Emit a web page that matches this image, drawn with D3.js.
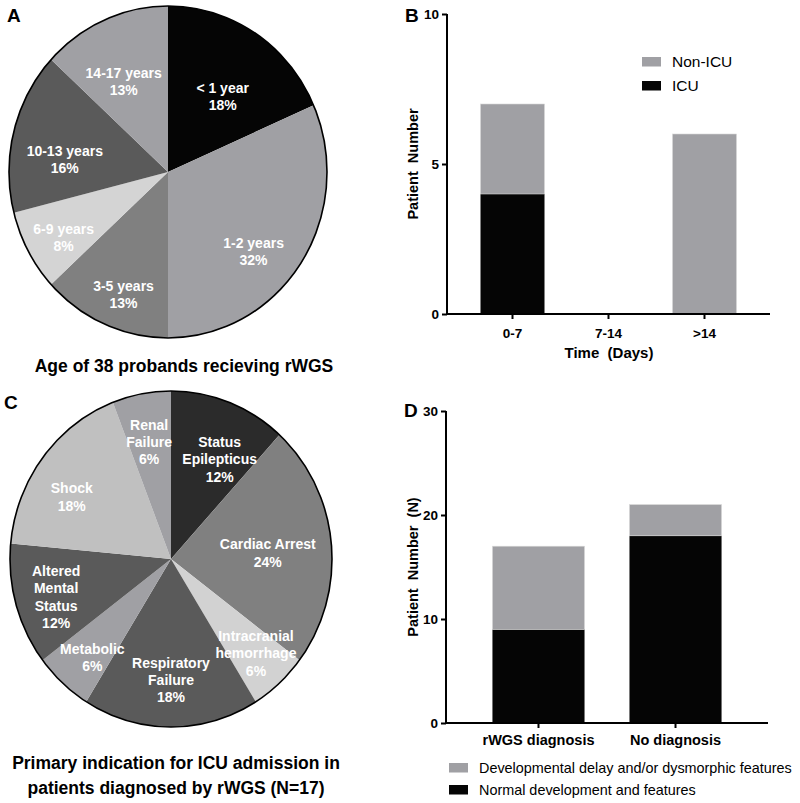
<!DOCTYPE html>
<html><head><meta charset="utf-8">
<script src="https://cdn.jsdelivr.net/npm/d3@7"></script>
<style>html,body{margin:0;padding:0;background:#fff;} svg{display:block;font-family:"Liberation Sans",Arial,sans-serif;}</style>
</head><body>
<svg id="chart" width="800" height="803"></svg>
<script>
// ---------- DATA ----------
const ageCategories = ["< 1 year","1-2 years","3-5 years","6-9 years","10-13 years","14-17 years"];
const ageCounts     = [7, 12, 5, 3, 6, 5];           // of 38 probands
const agePercents   = ["18%","32%","13%","8%","16%","13%"];

const icuCategories = ["Status Epilepticus","Cardiac Arrest","Intracranial hemorrhage","Respiratory Failure","Metabolic","Altered Mental Status","Shock","Renal Failure"];
const icuCounts     = [2, 4, 1, 3, 1, 2, 3, 1];      // N=17
const icuPercents   = ["12%","24%","6%","18%","6%","12%","18%","6%"];

const timeCategories = ["0-7","7-14",">14"];
const timeICU        = [4, 0, 0];
const timeNonICU     = [3, 0, 6];
const timeTicks      = [0, 5, 10];

const diagCategories = ["rWGS diagnosis","No diagnosis"];
const diagNormal     = [9, 18];
const diagDevDelay   = [8, 3];
const diagTicks      = [0, 10, 20, 30];

// ---------- STYLE / LAYOUT ----------
const ageColors = ["#050505","#a0a0a4","#808080","#d4d4d4","#5a5a5a","#a0a0a4"];
const icuColors = ["#2b2b2b","#808080","#d2d2d2","#5a5a5a","#a0a0a4","#5a5a5a","#c0c0c0","#a0a0a4"];
const ageLabelLines = [["< 1 year"],["1-2 years"],["3-5 years"],["6-9 years"],["10-13 years"],["14-17 years"]];
const icuLabelLines = [["Status","Epilepticus"],["Cardiac Arrest"],["Intracranial","hemorrhage"],["Respiratory","Failure"],["Metabolic"],["Altered","Mental","Status"],["Shock"],["Renal","Failure"]];
// label anchor (polar: radius px, angle deg clockwise from top) for each slice
const ageLabelPolar = [[93,36],[117,133],[130,200],[123,238],[104,277],[101,334]];
const icuLabelPolar = [[111,26],[97,86.5],[127,138],[121,180],[126,218.6],[121,251.7],[117,302],[119,349.4]];

const GRAY = "#a0a0a4", BLACK = "#050505";
const svg = d3.select("#chart");

function pie(g, counts, colors, lines, percents, polar, cx, cy, ry, sx) {
  const arcs = d3.pie().sort(null).value(d => d)(counts);
  const arc = d3.arc().innerRadius(0).outerRadius(ry);
  const pg = g.append("g").attr("transform", `translate(${cx},${cy}) scale(${sx},1)`);
  pg.selectAll("path").data(arcs).join("path")
    .attr("d", arc).attr("fill", (d,i) => colors[i]);
  pg.append("circle").attr("r", ry).attr("fill","none").attr("stroke","#000")
    .attr("stroke-width",1.6).attr("vector-effect","non-scaling-stroke");
  const lh = 17.3;
  arcs.forEach((d,i) => {
    const [r, a] = polar[i];
    const rad = a * Math.PI/180;
    const x = cx + r*Math.sin(rad), y = cy - r*Math.cos(rad);
    const all = lines[i].concat([percents[i]]);
    const t = g.append("text").attr("text-anchor","middle").attr("fill","#fff")
      .attr("font-weight","bold").attr("font-size",14);
    all.forEach((s,k) => {
      t.append("tspan").attr("x", x).attr("y", y + (k - (all.length-1)/2)*lh + 5).text(s);
    });
  });
}

// Panel A
pie(svg, ageCounts, ageColors, ageLabelLines, agePercents, ageLabelPolar, 168, 172, 166, 159/166);
svg.append("text").attr("x",184).attr("y",372).attr("text-anchor","middle")
  .attr("font-weight","bold").attr("font-size",17.5).text("Age of 38 probands recieving rWGS");
svg.append("text").attr("x",7).attr("y",22).attr("font-weight","bold").attr("font-size",19).text("A");

// Panel C
pie(svg, icuCounts, icuColors, icuLabelLines, icuPercents, icuLabelPolar, 171, 559, 168, 161/168);
svg.append("text").attr("x",176).attr("y",769).attr("text-anchor","middle")
  .attr("font-weight","bold").attr("font-size",17.5).text("Primary indication for ICU admission in");
svg.append("text").attr("x",176).attr("y",794).attr("text-anchor","middle")
  .attr("font-weight","bold").attr("font-size",17.5).text("patients diagnosed by rWGS (N=17)");
svg.append("text").attr("x",4).attr("y",409).attr("font-weight","bold").attr("font-size",19).text("C");

// ---------- Bar panels ----------
function barPanel(opts) {
  const {cats, lower, upper, ticks, x0, x1, y0, y1, ymax, pi, po} = opts;
  const g = svg.append("g");
  const x = d3.scaleBand().domain(cats).range([x0, x1]).paddingInner(pi).paddingOuter(po);
  const y = d3.scaleLinear().domain([0, ymax]).range([y0, y1]);
  cats.forEach((c,i) => {
    if (lower[i] > 0) g.append("rect").attr("x", x(c)).attr("width", x.bandwidth())
      .attr("y", y(lower[i])).attr("height", y(0)-y(lower[i])).attr("fill", BLACK);
    if (upper[i] > 0) g.append("rect").attr("x", x(c)).attr("width", x.bandwidth())
      .attr("y", y(lower[i]+upper[i])).attr("height", y(lower[i]) - y(lower[i]+upper[i]))
      .attr("fill", GRAY).attr("stroke","#d8d8d8").attr("stroke-width",0.6);
  });
  const ya = g.append("g").attr("transform",`translate(${x0},0)`)
    .call(d3.axisLeft(y).tickValues(ticks).tickSize(5).tickPadding(3).tickFormat(d3.format("d")));
  const xa = g.append("g").attr("transform",`translate(0,${y0})`)
    .call(d3.axisBottom(x).tickSize(5).tickPadding(opts.xPad));
  [ya, xa].forEach(a => {
    a.select(".domain").attr("stroke","#000").attr("stroke-width",2);
    a.selectAll(".tick line").attr("stroke","#000").attr("stroke-width",2);
    a.selectAll("text").attr("fill","#000").attr("font-weight","bold")
      .attr("font-family",'"Liberation Sans",Arial,sans-serif');
  });
  ya.select(".domain").attr("d", `M0,${y1}V${y0}`);
  xa.select(".domain").attr("d", `M${x0},0H${x1}`);
  ya.selectAll("text").attr("font-size",13.5);
  xa.selectAll("text").attr("font-size", opts.xFont);
  return {g, x, y};
}

// Panel B
barPanel({cats: timeCategories, lower: timeICU, upper: timeNonICU, ticks: timeTicks,
  x0: 447, x1: 770, y0: 314, y1: 14, ymax: 10, pi: 1/3, po: 0.349, xFont: 13.5, xPad: 9});
svg.append("text").attr("x",609).attr("y",358).attr("text-anchor","middle")
  .attr("font-weight","bold").attr("font-size",15).style("white-space","pre").text("Time  (Days)");
svg.append("text").attr("transform","translate(418,164) rotate(-90)").attr("text-anchor","middle")
  .attr("font-weight","bold").attr("font-size",14.5).style("white-space","pre").text("Patient  Number");
svg.append("text").attr("x",405).attr("y",22).attr("font-weight","bold").attr("font-size",19).text("B");
const legB = [["Non-ICU", GRAY],["ICU", BLACK]];
legB.forEach((d,i) => {
  svg.append("rect").attr("x",642).attr("y",57+i*24).attr("width",19).attr("height",9.5).attr("fill",d[1]);
  svg.append("text").attr("x",672).attr("y",67+i*24).attr("font-size",15.5).text(d[0]);
});

// Panel D
barPanel({cats: diagCategories, lower: diagNormal, upper: diagDevDelay, ticks: diagTicks,
  x0: 446, x1: 768, y0: 723, y1: 411, ymax: 30, pi: 0.328, po: 0.339, xFont: 14.5, xPad: 7});
svg.append("text").attr("transform","translate(418,567) rotate(-90)").attr("text-anchor","middle")
  .attr("font-weight","bold").attr("font-size",14.5).style("white-space","pre").text("Patient  Number  (N)");
svg.append("text").attr("x",404).attr("y",417).attr("font-weight","bold").attr("font-size",19).text("D");
const legD = [["Developmental delay and/or dysmorphic features", GRAY],["Normal development and features", BLACK]];
legD.forEach((d,i) => {
  svg.append("rect").attr("x",449).attr("y",763+i*22).attr("width",19).attr("height",9.5).attr("fill",d[1]);
  svg.append("text").attr("x",479).attr("y",773+i*22).attr("font-size",14.4).text(d[0]);
});
</script>
</body></html>
